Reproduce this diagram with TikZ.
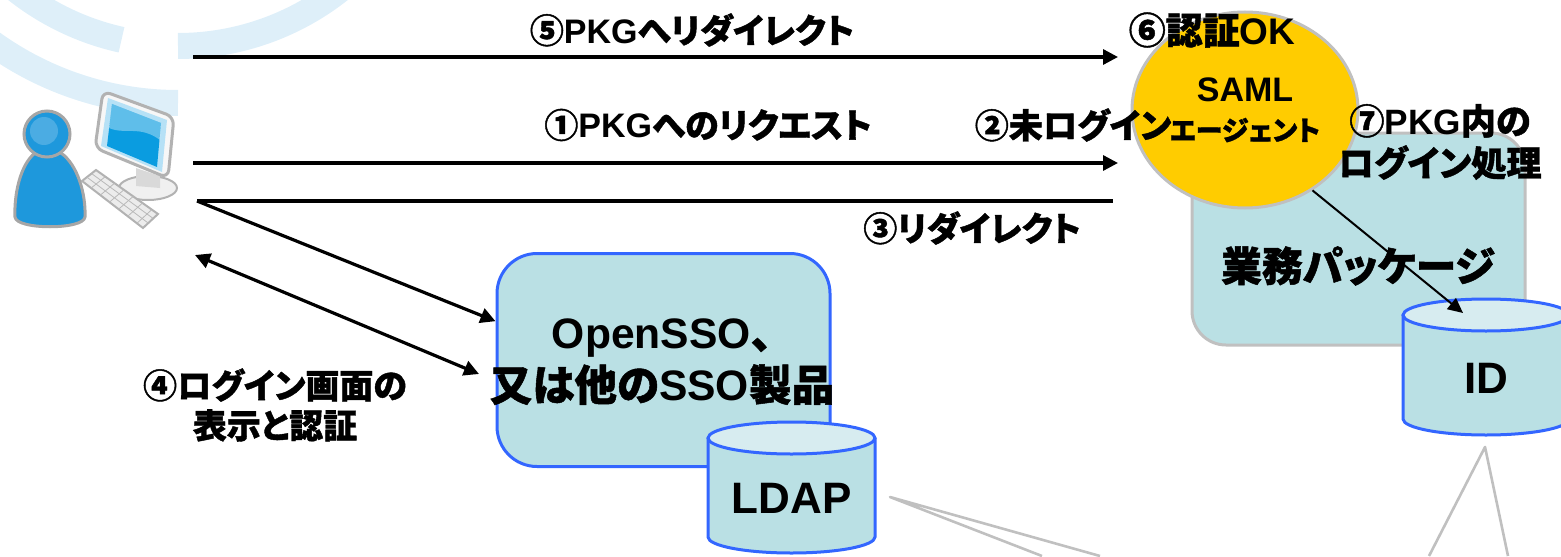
\documentclass[tikz,border=0pt]{standalone}
\usepackage{fontspec}
\setmainfont{Noto Sans CJK JP}[RawFeature=+palt,BoldFeatures={FakeBold=1.2}]
\newfontfamily\latfont{Liberation Sans}
\newcommand\lat[1]{{\latfont #1}}
\usepackage{tikz}
\usetikzlibrary{arrows.meta,positioning,shapes.geometric,calc}
\definecolor{Pale}{HTML}{BAE0E4}
\definecolor{PaleTop}{HTML}{D7ECF0}
\definecolor{Cobalt}{HTML}{3366FF}
\definecolor{Silver}{HTML}{C0C0C0}
\definecolor{Gold}{HTML}{FFCC00}
\definecolor{Haze}{HTML}{DEEFF9}
\definecolor{UserBlue}{HTML}{1E98DC}
\definecolor{Screen}{HTML}{0A9CE0}
\tikzset{
 tag/.style={font=\bfseries\fontsize{17}{20}\selectfont,inner sep=0pt,align=center},
 ssobox/.style={draw=Cobalt,fill=Pale,line width=1.5pt,rounded corners=20pt,
   minimum width=166.5pt,minimum height=106.5pt},
 pkgbox/.style={draw=Silver,fill=Pale,line width=1.5pt,rounded corners=17pt,
   minimum width=166.5pt,minimum height=106pt},
 agent/.style={ellipse,draw=Silver,fill=Gold,line width=1.5pt,inner sep=0pt,
   minimum width=113pt,minimum height=98pt,align=center,
   font=\bfseries\fontsize{17}{19.5}\selectfont},
 dbline/.style={draw=Cobalt,line width=1.5pt},
 dbtext/.style={font=\latfont\bfseries\fontsize{22}{26}\selectfont,inner sep=0pt},
 flow/.style={-{Triangle[length=7.5pt,width=7.5pt]},line width=1.6pt},
 biflow/.style={{Triangle[length=7.5pt,width=7.5pt]}-{Triangle[length=7.5pt,width=7.5pt]},line width=1.6pt},
 thinflow/.style={-{Triangle[length=7.5pt,width=7pt]},line width=1pt},
 wire/.style={line width=1.6pt},
 trail/.style={draw=Silver,line width=1.3pt,line join=round},
 ring/.style={draw=Haze,line width=13pt}
}
\begin{document}
\begin{tikzpicture}[x=0.5pt,y=-0.5pt]
\useasboundingbox (0,0) rectangle (1561,556);

% faint rings behind the client
\draw[ring] ([shift={(102.5:261)}]178,-215) arc[start angle=102.5,end angle=150,radius=261];
\draw[ring] ([shift={(90:261)}]178,-215) arc[start angle=90,end angle=30,radius=261];
\draw[ring] ([shift={(90:318)}]178,-215) arc[start angle=90,end angle=150,radius=318];

% client: monitor, keyboard, user
\draw[draw=gray!60,fill=gray!12,line width=1pt] (148,188) ellipse[x radius=29,y radius=12];
\fill[gray!30] (136,168) -- (160,176) -- (160,188) -- (136,186) -- cycle;
\draw[draw=gray!60,fill=gray!6,line width=1.5pt,rounded corners=4pt]
  (103,91) -- (174,117) -- (168,178) -- (95,148) -- cycle;
\fill[Screen!30] (108,98) -- (167,120) -- (162,172) -- (101,146) -- cycle;
\fill[Screen] (112,104) -- (161,123) -- (157,167) -- (107,146) -- cycle;
\fill[white,opacity=.35] (112,104) -- (161,123) -- (160,140) .. controls (140,125) and (125,135) .. (109,128) -- cycle;
\draw[draw=gray!60,fill=gray!15,line width=1pt] (82,181) -- (96,170) -- (158,214) -- (143,228) -- cycle;
\foreach \t in {0.15,0.3,0.45,0.6,0.75,0.9}
  \draw[gray!55,line width=.4pt] ($(82,181)!\t!(143,228)$) -- ($(96,170)!\t!(158,214)$);
\foreach \s in {0.35,0.68}
  \draw[gray!55,line width=.4pt] ($(82,181)!\s!(96,170)$) -- ($(143,228)!\s!(158,214)$);
\draw[draw=gray!70,fill=UserBlue,line width=1.5pt]
  (35,153) .. controls (20,165) and (14,195) .. (15,217)
  .. controls (16,230) and (84,230) .. (85,217)
  .. controls (86,195) and (78,165) .. (61,153) -- cycle;
\draw[draw=gray!70,fill=UserBlue,line width=1.5pt] (47,134) circle[radius=23];
\fill[white,opacity=.2] (44,131) circle[radius=14];

% SSO server and its directory
\node[ssobox] (sso) at (663.5,360) {};
\node[tag,font=\bfseries\fontsize{21.3}{26}\selectfont] (ssoname) at (662,362) {\lat{OpenSSO}、\\又は他の\lat{SSO}製品};
\fill[Pale] (708,438) rectangle (875,537);
\fill[Pale] (791.5,537) ellipse[x radius=83.5,y radius=16];
\draw[dbline] (708,438) -- (708,537) arc[start angle=180,end angle=0,x radius=83.5,y radius=16] -- (875,438);
\draw[dbline,fill=PaleTop] (791.5,438) ellipse[x radius=83.5,y radius=16];
\node[dbtext] (ldap) at (791.5,498) {LDAP};

% business package with agent and ID store
\node[pkgbox] (pkg) at (1358.5,239) {};
\node[tag,font=\bfseries\fontsize{20.4}{24}\selectfont] (pkgname) at (1358,266) {業務パッケージ};
\node[agent] (saml) at (1245,110) {\lat{SAML}\\{\fontsize{13.6}{15}\selectfont エージェント}};
\fill[Pale] (1403,315) rectangle (1569,419);
\fill[Pale] (1486,419) ellipse[x radius=83,y radius=16];
\draw[dbline] (1403,315) -- (1403,419) arc[start angle=180,end angle=0,x radius=83,y radius=16] -- (1569,315);
\draw[dbline,fill=PaleTop] (1486,315) ellipse[x radius=83,y radius=16];
\node[dbtext] (iddb) at (1486,378) {ID};

% message flow
\coordinate (u5) at (193,57);  \coordinate (a5) at (1118,57);
\coordinate (u1) at (193,163); \coordinate (a1) at (1118,163);
\coordinate (u3) at (197,201); \coordinate (a3) at (1113,201);
\coordinate (u4) at (195,255); \coordinate (a4) at (479,374);
\coordinate (idin) at (1463,313);
\draw[flow] (u5) -- (a5);
\draw[flow] (u1) -- (a1);
\draw[wire] (u3) -- (a3);
\draw[flow] (u3) -- (sso.167);
\draw[biflow] (u4) -- (a4);
\draw[thinflow] (saml.310) -- (idin);

% leaders running off the bottom
\coordinate (ldapR) at (890,497); \coordinate (g1) at (1100,556); \coordinate (g2) at (1042,556);
\coordinate (idB) at (1485,447);  \coordinate (g3) at (1429,556); \coordinate (g4) at (1508,556);
\draw[trail] (g1) -- (ldapR) -- (g2);
\draw[trail] (g3) -- (idB) -- (g4);

% step labels
\node[tag] (t5) at (692,30) {⑤\lat{PKG}へリダイレクト};
\node[tag] (t1) at (708,125) {①\lat{PKG}へのリクエスト};
\node[tag] (t2) at (1073,125) {②未ログイン};
\node[tag] (t3) at (972,228) {③リダイレクト};
\node[tag] (t4) at (275,405) {④ログイン画面の\\表示と認証};
\node[tag,font=\bfseries\fontsize{18.5}{20}\selectfont] (t6) at (1212,30) {⑥認証\lat{OK}};
\node[tag,font=\bfseries\fontsize{17.6}{21}\selectfont] (t7) at (1440,142) {⑦\lat{PKG}内の\\ログイン処理};
\end{tikzpicture}
\end{document}
